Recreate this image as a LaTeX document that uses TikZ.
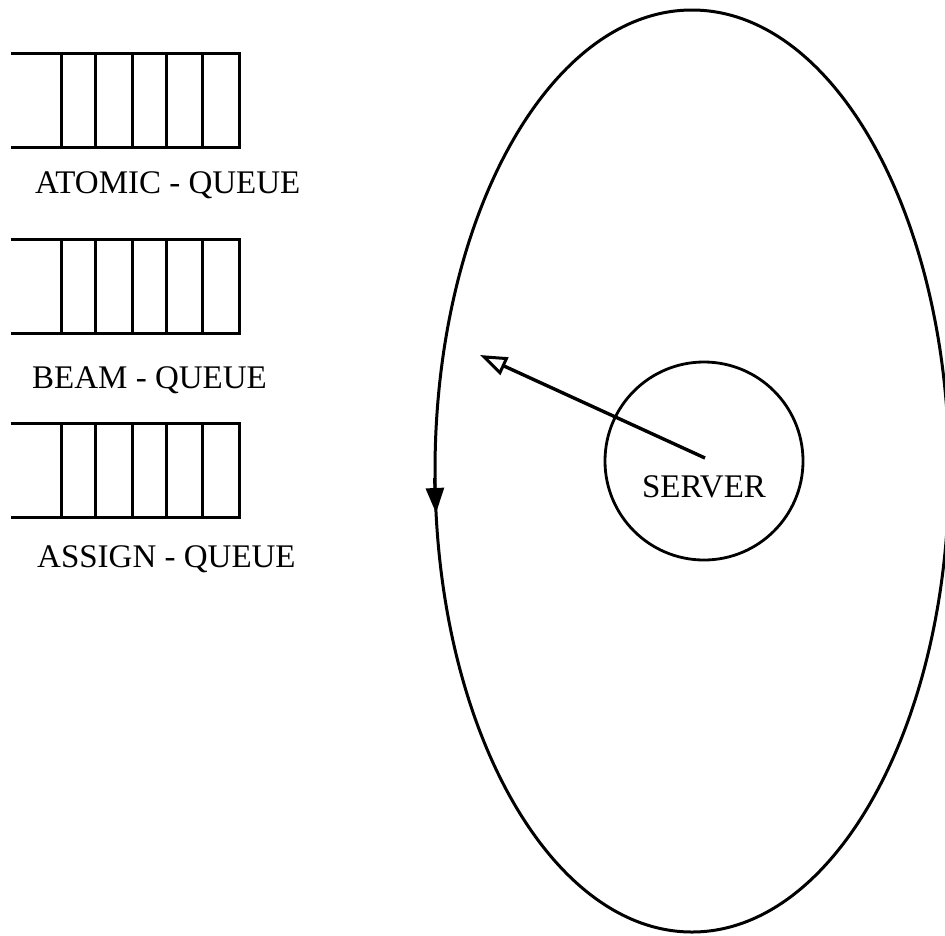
\documentclass[tikz,border=0pt]{standalone}
\usepackage{fontspec}
\setmainfont{Liberation Serif}
\usetikzlibrary{arrows.meta}
\tikzset{
  qline/.style={line width=3pt, line cap=rect},
  bigline/.style={line width=3pt},
  qlabel/.style={anchor=base west, inner sep=0pt, font=\fontsize{33}{40}\selectfont},
  pics/queuebox/.style={code={
    \draw[qline] (0,0) -- (227,0);
    \draw[qline] (0,94) -- (227,94);
    \foreach \xx in {49,83,120,154,190,227} \draw[qline] (\xx,0) -- (\xx,94);
  }}
}
\begin{document}
\begin{tikzpicture}[x=1pt,y=-1pt]
\useasboundingbox (0,0) rectangle (945,935);
\clip (0,0) rectangle (945,935);
% queues
\pic (qa) at (12,53) {queuebox};
\pic (qb) at (12,239) {queuebox};
\pic (qc) at (12,423) {queuebox};
\node[qlabel] (la) at (35,193) {ATOMIC - QUEUE};
\node[qlabel] (lb) at (32,388) {BEAM - QUEUE};
\node[qlabel] (lc) at (37,567) {ASSIGN - QUEUE};
% ellipse
\coordinate (ec) at (692,471);
\draw[bigline] (ec) ellipse [x radius=257, y radius=461];
\coordinate (ea1) at (434.5,478);
\coordinate (ea2) at (436,513);
\draw[bigline, -{Triangle[length=25pt,width=18pt]}] (ea1) -- (ea2);
% server
\node[draw, circle, line width=2.8pt, minimum size=198pt, inner sep=0pt] (srv) at (704,461) {};
\node[inner sep=0pt, font=\fontsize{33}{40}\selectfont] (srvlabel) at (704,487) {SERVER};
\coordinate (as) at (705,458);
\coordinate (at) at (480,355);
\draw[line width=3.4pt, -{Triangle[open, length=27pt, width=19pt, line width=3pt]}] (as) -- (at);
\end{tikzpicture}
\end{document}
